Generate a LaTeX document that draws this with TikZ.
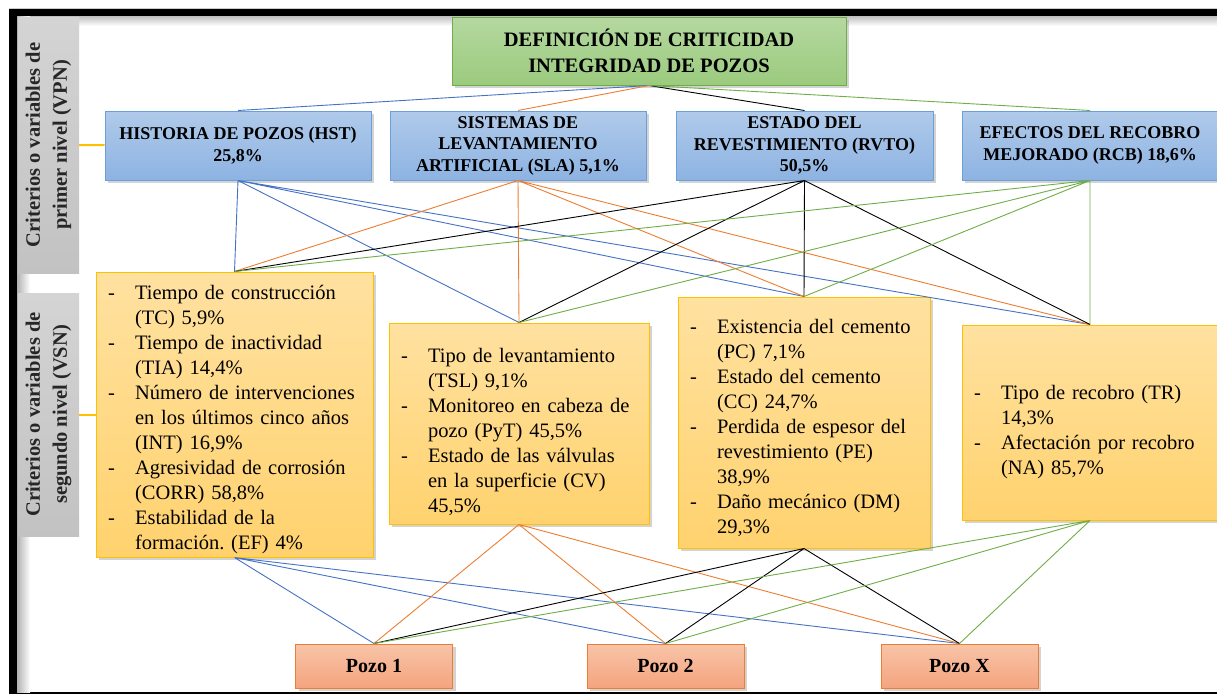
\documentclass[tikz,border=0pt]{standalone}
\usepackage{fontspec}
\setmainfont{Liberation Serif}
\usepackage{tikz}
\usetikzlibrary{shadows}
\usepackage{xcolor}
\definecolor{lineblue}{HTML}{4472C4}
\definecolor{lineorange}{HTML}{ED7D31}
\definecolor{linegreen}{HTML}{70AD47}
\definecolor{bluebord}{HTML}{6A9FD8}
\definecolor{bluetop}{HTML}{B0CAEA}
\definecolor{bluebot}{HTML}{8DB3E2}
\definecolor{greenbord}{HTML}{70AD47}
\definecolor{greentop}{HTML}{B5D8A0}
\definecolor{greenbot}{HTML}{9BCB7E}
\definecolor{yellowbord}{HTML}{FFC000}
\definecolor{yellowtop}{HTML}{FFE1A0}
\definecolor{yellowbot}{HTML}{FFD26E}
\definecolor{pozobord}{HTML}{ED7D31}
\definecolor{pozotop}{HTML}{F8C4A8}
\definecolor{pozobot}{HTML}{F4A47E}
\definecolor{sidetop}{HTML}{D4D4D4}
\definecolor{sidebot}{HTML}{C2C2C2}
\newcommand{\itm}[1]{\par\hangindent=31pt\hangafter=1\noindent\hspace*{4pt}\makebox[27pt][l]{-}#1}
\frenchspacing

\begin{document}
\begin{tikzpicture}[x=1pt,y=-1pt]
        \tikzstyle{box}=[draw, line width=1pt, inner sep=0pt, drop shadow={shadow xshift=3pt, shadow yshift=-3pt, opacity=.35}]
        \tikzstyle{crit}=[box, draw=greenbord, top color=greentop, bottom color=greenbot, minimum width=394pt, minimum height=68pt, align=center, font=\fontsize{20.5}{25.5}\selectfont\bfseries]
        \tikzstyle{vpnbox}=[box, draw=bluebord, top color=bluetop, bottom color=bluebot, minimum height=69pt, align=center, font=\fontsize{18}{21.5}\selectfont\bfseries]
        \tikzstyle{vsnbox}=[box, draw=yellowbord, top color=yellowtop, bottom color=yellowbot, inner xsep=8pt, align=left, font=\fontsize{20.5}{25}\selectfont]
        \tikzstyle{pozo}=[box, draw=pozobord, top color=pozotop, bottom color=pozobot, minimum width=157pt, minimum height=44pt, font=\fontsize{20}{23}\selectfont\bfseries]
        \tikzstyle{side}=[top color=sidetop, bottom color=sidebot, rotate=90, minimum height=61pt, inner sep=0pt, align=center, text=black!85, font=\fontsize{20.5}{27}\selectfont\bfseries]
        \tikzstyle{link}=[line width=0.9pt]
        \tikzstyle{sidelink}=[draw=yellowbord, line width=2pt]

        \useasboundingbox (0,0) rectangle (1217,694);

        % Frame
        \draw[black!20, line width=1pt] (9,8) -- (1217,8);
        \fill[black] (9,9) rectangle (1217,16);
        \fill[black] (9,9) rectangle (17,694);
        \fill[black] (9,692) rectangle (1217,694);
        \shade[left color=black!30, right color=white] (17,16) rectangle (30,692);
        \shade[top color=black!25, bottom color=white] (30,16) rectangle (1217,26);

        % Side labels
        \node[side, minimum width=256pt] (vpn) at (48.5,145) {Criterios o variables de\\primer nivel (VPN)};
        \node[side, minimum width=243pt] (vsn) at (48.5,414.5) {Criterios o variables de\\segundo nivel (VSN)};

        % Goal
        \node[crit] (def) at (649,51) {DEFINICIÓN DE CRITICIDAD\\INTEGRIDAD DE POZOS};

        % First level criteria
        \node[vpnbox, minimum width=266pt] (hst) at (238,145.5) {HISTORIA DE POZOS (HST)\\25,8\%};
        \node[vpnbox, minimum width=256pt] (sla) at (518,145.5) {SISTEMAS DE\\LEVANTAMIENTO\\ARTIFICIAL (SLA) 5,1\%};
        \node[vpnbox, minimum width=257pt] (rvto) at (804.5,145.5) {ESTADO DEL\\REVESTIMIENTO (RVTO)\\50,5\%};
        \node[vpnbox, minimum width=256pt] (rcb) at (1090,145.5) {EFECTOS DEL RECOBRO\\MEJORADO (RCB) 18,6\%};

        % Second level criteria
        \node[vsnbox, text width=261pt, minimum height=285pt] (hstvar) at (234.5,414.5) {%
            \itm{Tiempo de construcción\newline (TC) 5,9\%}
            \itm{Tiempo de inactividad\newline (TIA) 14,4\%}
            \itm{Número de intervenciones\newline en los últimos cinco años\newline (INT) 16,9\%}
            \itm{Agresividad de corrosión\newline (CORR) 58,8\%}
            \itm{Estabilidad de la\newline formación. (EF) 4\%}\par};
        \node[vsnbox, text width=244pt, minimum height=201pt] (slavar) at (519,423.5) {%
            \vspace*{6pt}
            \itm{Tipo de levantamiento\newline (TSL) 9,1\%}
            \itm{Monitoreo en cabeza de\newline pozo (PyT) 45,5\%}
            \itm{Estado de las válvulas\newline en la superficie (CV)\newline 45,5\%}\par};
        \node[vsnbox, text width=236pt, minimum height=251pt] (rvtovar) at (804,422.5) {%
            \itm{Existencia del cemento\newline (PC) 7,1\%}
            \itm{Estado del cemento\newline (CC) 24,7\%}
            \itm{Perdida de espesor del\newline revestimiento (PE)\newline 38,9\%}
            \itm{Daño mecánico (DM)\newline 29,3\%}\par};
        \node[vsnbox, text width=240pt, minimum height=195pt] (rcbvar) at (1090,422.5) {%
            \vspace*{8pt}
            \itm{Tipo de recobro (TR)\newline 14,3\%}
            \itm{Afectación por recobro\newline (NA) 85,7\%}\par};

        % Alternatives
        \node[pozo] (p1) at (374,666) {Pozo 1};
        \node[pozo] (p2) at (665.5,666) {Pozo 2};
        \node[pozo] (px) at (959.5,666) {Pozo X};

        % Side connectors
        \draw[sidelink] (vpn) -- (hst);
        \draw[sidelink] (vsn) -- (hstvar);

        % Goal to first level
        \draw[link, lineblue] (def.south) -- (hst.north);
        \draw[link, lineorange] (def.south) -- (sla.north);
        \draw[link, black] (def.south) -- (rvto.north);
        \draw[link, linegreen] (def.south) -- (rcb.north);

        % First level to second level
        \draw[link, lineblue] (hst.south) -- (hstvar.north) (hst.south) -- (slavar.north)
            (hst.south) -- (rvtovar.north) (hst.south) -- (rcbvar.north);
        \draw[link, lineorange] (sla.south) -- (hstvar.north) (sla.south) -- (slavar.north)
            (sla.south) -- (rvtovar.north) (sla.south) -- (rcbvar.north);
        \draw[link, black] (rvto.south) -- (hstvar.north) (rvto.south) -- (slavar.north)
            (rvto.south) -- (rvtovar.north) (rvto.south) -- (rcbvar.north);
        \draw[link, linegreen] (rcb.south) -- (hstvar.north) (rcb.south) -- (slavar.north)
            (rcb.south) -- (rvtovar.north) (rcb.south) -- (rcbvar.north);

        % Second level to wells
        \draw[link, lineblue] (hstvar.south) -- (p1.north) (hstvar.south) -- (p2.north) (hstvar.south) -- (px.north);
        \draw[link, lineorange] (slavar.south) -- (p1.north) (slavar.south) -- (p2.north) (slavar.south) -- (px.north);
        \draw[link, black] (rvtovar.south) -- (p1.north) (rvtovar.south) -- (p2.north) (rvtovar.south) -- (px.north);
        \draw[link, linegreen] (rcbvar.south) -- (p1.north) (rcbvar.south) -- (p2.north) (rcbvar.south) -- (px.north);
\end{tikzpicture}
\end{document}
